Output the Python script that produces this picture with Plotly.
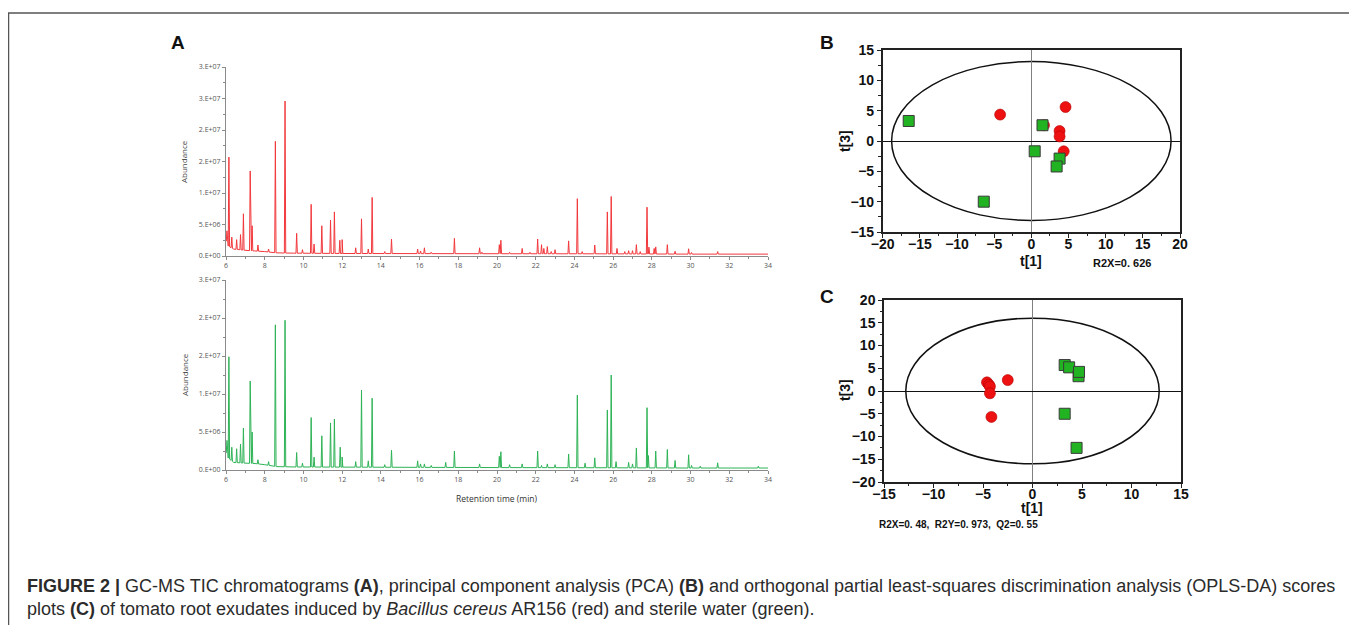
import numpy as np
import plotly.graph_objects as go

W, H = 1357, 625
PAGE_OFF = 8  # body margin of the html page

# ---------------- Panel A data (GC-MS TIC) ----------------
red_peak_t = [6.05, 6.15, 6.3, 6.55, 6.75, 6.9, 7.25, 7.35, 7.65, 8.2, 8.55, 9.05, 9.65, 9.95,
              10.4, 10.55, 10.95, 11.4, 11.6, 11.88, 12.0, 12.7, 13.0, 13.35, 13.55, 14.2, 14.55,
              15.9, 16.05, 16.25, 16.6, 17.8, 19.1, 19.22, 20.12, 20.2, 20.65, 21.3, 21.7, 22.1,
              22.3, 22.42, 22.6, 22.8, 23.0, 23.7, 24.15, 24.4, 25.05, 25.7, 25.9, 26.2, 26.6,
              26.8, 27.0, 27.2, 27.4, 27.75, 27.85, 28.12, 28.2, 28.8, 29.2, 29.9, 30.05, 31.4]
red_peak_h = [4.0e6, 15.7e6, 3.0e6, 2.6e6, 3.4e6, 6.7e6, 13.5e6, 4.8e6, 1.75e6, 1.1e6, 18.2e6,
              24.6e6, 3.6e6, 1.0e6, 8.2e6, 1.9e6, 4.8e6, 5.7e6, 7.0e6, 2.5e6, 2.6e6, 1.3e6, 5.9e6,
              1.1e6, 9.3e6, 0.7e6, 2.7e6, 1.1e6, 0.8e6, 1.3e6, 0.6e6, 2.8e6, 1.3e6, 0.6e6, 1.8e6,
              2.5e6, 0.6e6, 1.2e6, 0.6e6, 2.7e6, 1.8e6, 1.2e6, 1.5e6, 0.7e6, 1.0e6, 2.4e6, 9.1e6,
              0.7e6, 1.75e6, 7.0e6, 9.45e6, 1.2e6, 0.7e6, 0.85e6, 0.85e6, 1.8e6, 0.7e6, 7.75e6,
              1.4e6, 1.2e6, 1.45e6, 1.8e6, 0.75e6, 1.15e6, 0.55e6, 0.7e6]
red_base_t = [6.0, 6.1, 6.4, 7.0, 7.5, 8.0, 8.6, 9.5, 12.0, 16.0, 20.0, 25.0, 30.0, 34.0]
red_base_v = [2.5e6, 1.6e6, 1.1e6, 0.9e6, 0.8e6, 0.7e6, 0.5e6, 0.45e6, 0.4e6, 0.38e6, 0.36e6,
              0.35e6, 0.3e6, 0.3e6]

green_peak_t = [6.05, 6.15, 6.3, 6.55, 6.75, 6.9, 7.25, 7.35, 7.65, 8.2, 8.55, 9.05, 9.65, 9.95,
                10.4, 10.55, 10.95, 11.4, 11.6, 11.9, 12.0, 12.7, 13.0, 13.35, 13.55, 14.2, 14.55,
                15.9, 16.05, 16.25, 16.6, 17.35, 17.8, 19.1, 20.12, 20.2, 20.65, 21.3, 22.1, 22.3,
                22.6, 23.0, 23.7, 24.15, 24.55, 25.05, 25.7, 25.9, 26.15, 26.8, 27.0, 27.2, 27.75,
                27.82, 28.2, 28.8, 29.2, 29.9, 30.05, 30.5, 31.4, 33.5]
green_peak_h = [3.9e6, 14.9e6, 3.0e6, 2.8e6, 3.4e6, 5.5e6, 11.7e6, 5.0e6, 1.35e6, 1.1e6, 19.1e6,
                19.7e6, 2.3e6, 0.9e6, 6.9e6, 1.7e6, 4.5e6, 6.2e6, 6.7e6, 3.0e6, 1.7e6, 1.1e6, 10.5e6,
                1.2e6, 9.45e6, 0.7e6, 2.6e6, 1.2e6, 0.8e6, 0.8e6, 0.6e6, 1.0e6, 2.5e6, 0.8e6, 1.8e6,
                2.4e6, 0.7e6, 0.8e6, 2.5e6, 0.6e6, 0.8e6, 0.7e6, 2.1e6, 9.85e6, 0.9e6, 1.6e6, 7.9e6,
                12.5e6, 1.1e6, 1.0e6, 0.8e6, 2.9e6, 8.2e6, 1.9e6, 2.5e6, 2.7e6, 1.25e6, 2.0e6, 0.6e6,
                0.5e6, 0.95e6, 0.5e6]
green_base_t = [6.0, 6.1, 6.4, 7.0, 7.5, 8.0, 8.6, 9.5, 12.0, 16.0, 20.0, 25.0, 30.0, 34.0]
green_base_v = [2.4e6, 1.6e6, 1.0e6, 0.9e6, 0.85e6, 0.7e6, 0.45e6, 0.4e6, 0.38e6, 0.35e6, 0.32e6,
                0.3e6, 0.26e6, 0.26e6]

chrom_x_ticks = [6, 8, 10, 12, 14, 16, 18, 20, 22, 24, 26, 28, 30, 32, 34]
abund_tickvals_top = [0, 5e6, 1e7, 1.5e7, 2e7, 2.5e7, 3e7]
abund_ticktext_top = ["0.E+00", "5.E+06", "1.E+07", "2.E+07", "2.E+07", "3.E+07", "3.E+07"]
abund_tickvals_bot = [0, 5e6, 1e7, 1.5e7, 2e7, 2.5e7]
abund_ticktext_bot = ["0.E+00", "5.E+06", "1.E+07", "2.E+07", "2.E+07", "3.E+07"]

# ---------------- Panel B data (PCA) ----------------
pca_red_x = [-4.2, 4.6, 1.7, 3.8, 3.8, 4.35]
pca_red_y = [4.35, 5.6, 2.6, 1.65, 0.75, -1.7]
pca_green_x = [-16.5, 1.5, 0.45, 3.8, 3.4, -6.4]
pca_green_y = [3.3, 2.6, -1.7, -2.9, -4.2, -10.0]
pca_ellipse = (18.8, 13.1)
pca_ticks_x = [-20, -15, -10, -5, 0, 5, 10, 15, 20]
pca_ticks_y = [-15, -10, -5, 0, 5, 10, 15]

# ---------------- Panel C data (OPLS-DA) ----------------
opls_red_x = [-4.6, -4.4, -4.3, -4.3, -2.5, -4.15]
opls_red_y = [1.9, 1.4, 1.0, -0.5, 2.4, -5.7]
opls_green_x = [3.25, 3.7, 4.65, 4.7, 3.25, 4.45]
opls_green_y = [5.7, 5.2, 3.25, 4.2, -5.0, -12.5]
opls_ellipse = (12.8, 16.0)
opls_ticks_x = [-15, -10, -5, 0, 5, 10, 15]
opls_ticks_y = [-20, -15, -10, -5, 0, 5, 10, 15, 20]


def px(x):
    return (x - PAGE_OFF) / W


def py(y):
    return 1 - (y - PAGE_OFF) / H


def chrom_line(peak_t, peak_h, base_t, base_v, hw=0.035):
    pts = list(zip(base_t, base_v))
    for t, h in zip(peak_t, peak_h):
        pts.append((t - hw, float(np.interp(t - hw, base_t, base_v))))
        pts.append((t, h))
        pts.append((t + hw, float(np.interp(t + hw, base_t, base_v))))
    pts.sort(key=lambda p: p[0])
    return [p[0] for p in pts], [p[1] for p in pts]


fig = go.Figure()

rx, ry = chrom_line(red_peak_t, red_peak_h, red_base_t, red_base_v)
gx, gy = chrom_line(green_peak_t, green_peak_h, green_base_t, green_base_v)

fig.add_trace(go.Scatter(x=rx, y=ry, mode="lines", line=dict(color="#f2383c", width=1),
                         xaxis="x", yaxis="y", showlegend=False, hoverinfo="skip"))
fig.add_trace(go.Scatter(x=gx, y=gy, mode="lines", line=dict(color="#2eb356", width=1),
                         xaxis="x2", yaxis="y2", showlegend=False, hoverinfo="skip"))

red_marker = dict(symbol="circle", size=11, color="#ee1111", line=dict(color="#b30000", width=0.6))
green_marker = dict(symbol="square", size=11, color="#22b322", line=dict(color="#3a3a3a", width=1))

fig.add_trace(go.Scatter(x=pca_red_x, y=pca_red_y, mode="markers", marker=red_marker,
                         xaxis="x3", yaxis="y3", showlegend=False))
fig.add_trace(go.Scatter(x=pca_green_x, y=pca_green_y, mode="markers", marker=green_marker,
                         xaxis="x3", yaxis="y3", showlegend=False))
fig.add_trace(go.Scatter(x=opls_red_x, y=opls_red_y, mode="markers", marker=red_marker,
                         xaxis="x4", yaxis="y4", showlegend=False))
fig.add_trace(go.Scatter(x=opls_green_x, y=opls_green_y, mode="markers", marker=green_marker,
                         xaxis="x4", yaxis="y4", showlegend=False))

chrom_font = dict(family="Open Sans, Liberation Sans, sans-serif", size=7, color="#555")
chrom_common = dict(showgrid=False, zeroline=False, showline=True, linecolor="#8a8a8a",
                    linewidth=1, ticks="outside", ticklen=3, tickcolor="#8a8a8a",
                    tickfont=chrom_font, automargin=False)
chrom_x = dict(chrom_common, range=[6, 34], tickvals=chrom_x_ticks,
               minor=dict(dtick=1, ticks="outside", ticklen=2, tickcolor="#8a8a8a"))

score_font = dict(family="Liberation Sans, Arial, sans-serif", size=14, color="#111", weight="bold")
score_common = dict(showgrid=False, showline=True, linecolor="#222", linewidth=1.5, mirror=True,
                    ticks="outside", ticklen=4, tickcolor="#222", tickfont=score_font,
                    zeroline=True, zerolinewidth=1.2, automargin=False)
score_minor = dict(dtick=2.5, ticks="outside", ticklen=2.5, tickcolor="#222")

fig.update_layout(
    width=W, height=H, margin=dict(l=0, r=0, t=0, b=0, pad=0, autoexpand=False),
    paper_bgcolor="white", plot_bgcolor="white", showlegend=False,
    xaxis=dict(chrom_x, domain=[px(226), px(768)], anchor="y"),
    yaxis=dict(chrom_common, domain=[py(256), py(67)], anchor="x", range=[0, 3e7],
               tickvals=abund_tickvals_top, ticktext=abund_ticktext_top,
               minor=dict(tickvals=[2.5e6, 7.5e6, 1.25e7, 1.75e7, 2.25e7, 2.75e7],
                          ticks="outside", ticklen=2, tickcolor="#8a8a8a")),
    xaxis2=dict(chrom_x, domain=[px(226), px(768)], anchor="y2"),
    yaxis2=dict(chrom_common, domain=[py(470), py(280)], anchor="x2", range=[0, 2.5e7],
                tickvals=abund_tickvals_bot, ticktext=abund_ticktext_bot,
                minor=dict(tickvals=[2.5e6, 7.5e6, 1.25e7, 1.75e7, 2.25e7],
                           ticks="outside", ticklen=2, tickcolor="#8a8a8a")),
    xaxis3=dict(score_common, domain=[px(882.7), px(1180)], anchor="y3", range=[-20, 20],
                tickvals=pca_ticks_x, zerolinecolor="#808080", ticklabelstandoff=-6,
                minor=score_minor),
    yaxis3=dict(score_common, domain=[py(232), py(50)], anchor="x3", range=[-15, 15],
                tickvals=pca_ticks_y, zerolinecolor="#111", minor=score_minor),
    xaxis4=dict(score_common, domain=[px(884), px(1181)], anchor="y4", range=[-15, 15],
                tickvals=opls_ticks_x, zerolinecolor="#808080", ticklabelstandoff=-6,
                minor=score_minor),
    yaxis4=dict(score_common, domain=[py(482), py(300)], anchor="x4", range=[-20, 20],
                tickvals=opls_ticks_y, zerolinecolor="#111", minor=score_minor),
)

# Ellipses (Hotelling T2)
for (a, b), xr, yr in [(pca_ellipse, "x3", "y3"), (opls_ellipse, "x4", "y4")]:
    fig.add_shape(type="circle", xref=xr, yref=yr, x0=-a, x1=a, y0=-b, y1=b,
                  line=dict(color="#111", width=1.5), layer="below")

# Outer frame
fig.add_shape(type="rect", xref="paper", yref="paper", x0=px(8.5), x1=px(1355), y0=py(660),
              y1=py(13), line=dict(color="#555", width=1.5))


def ann(text, x, y, size, color="#111", family="Liberation Sans, Arial, sans-serif",
        xanchor="center", yanchor="middle", angle=0):
    fig.add_annotation(text=text, x=px(x), y=py(y), xref="paper", yref="paper",
                       showarrow=False, xanchor=xanchor, yanchor=yanchor, textangle=angle,
                       font=dict(size=size, color=color, family=family))


ann("<b>A</b>", 178, 42, 19)
ann("<b>B</b>", 827, 42, 19)
ann("<b>C</b>", 827, 297, 19)
ann("Abundance", 184, 162, 8, color="#444", family="Open Sans, sans-serif", angle=-90)
ann("Abundance", 184, 375, 8, color="#444", family="Open Sans, sans-serif", angle=-90)
ann("Retention time (min)", 497, 498, 8.5, color="#333", family="Open Sans, sans-serif")
ann("<b>t[1]</b>", 1031, 261, 14)
ann("<b>t[3]</b>", 845, 141, 14, angle=-90)
ann("<b>R2X=0. 626</b>", 1091, 263, 11, xanchor="left")
ann("<b>t[1]</b>", 1032, 508, 14)
ann("<b>t[3]</b>", 845, 390, 14, angle=-90)
ann("<b>R2X=0. 48,  R2Y=0. 973,  Q2=0. 55</b>", 958, 524, 10)

cap_font = "Liberation Sans, Arial, sans-serif"
ann("<b>FIGURE 2 |</b> GC-MS TIC chromatograms <b>(A)</b>, principal component analysis (PCA) "
    "<b>(B)</b> and orthogonal partial least-squares discrimination analysis (OPLS-DA) scores",
    25, 586, 18, color="#2b2b2b", family=cap_font, xanchor="left")
ann("plots <b>(C)</b> of tomato root exudates induced by <i>Bacillus cereus</i> AR156 (red) "
    "and sterile water (green).",
    25, 609, 18, color="#2b2b2b", family=cap_font, xanchor="left")

fig.write_html("out.html")
